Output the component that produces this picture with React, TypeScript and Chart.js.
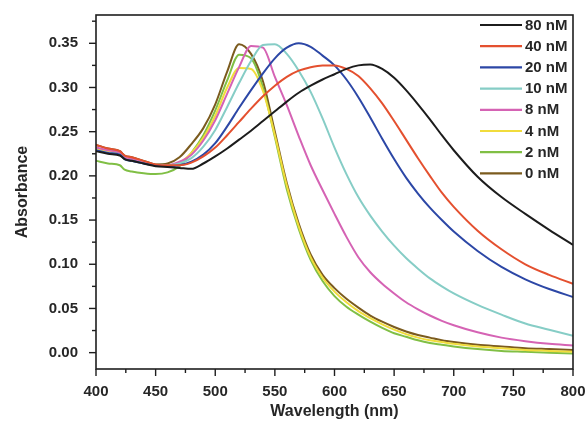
import React, { useEffect, useRef } from "react";
import { Chart, registerables } from "chart.js";

Chart.register(...registerables);

const wavelengths = [400, 410, 420, 424, 430, 440, 450, 460, 470, 480, 490, 500, 510, 520, 530, 540, 550, 560, 570, 580, 590, 600, 610, 620, 630, 640, 650, 660, 670, 680, 690, 700, 720, 740, 760, 780, 800];

const seriesLabels = ["80 nM", "40 nM", "20 nM", "10 nM", "8 nM", "4 nM", "2 nM", "0 nM"];
const seriesColors = ["#1c1c1c", "#e4502f", "#2c47a6", "#86cdc6", "#d563b4", "#f1dc3c", "#80bf45", "#7b5b1e"];

const abs80 = [0.228, 0.225, 0.223, 0.219, 0.217, 0.214, 0.211, 0.210, 0.209, 0.208, 0.214, 0.222, 0.231, 0.241, 0.251, 0.262, 0.273, 0.284, 0.294, 0.302, 0.309, 0.315, 0.321, 0.325, 0.326, 0.321, 0.311, 0.297, 0.281, 0.264, 0.246, 0.229, 0.199, 0.176, 0.157, 0.139, 0.122];
const abs40 = [0.235, 0.231, 0.228, 0.223, 0.221, 0.217, 0.213, 0.212, 0.212, 0.215, 0.222, 0.232, 0.246, 0.261, 0.276, 0.290, 0.302, 0.312, 0.319, 0.323, 0.325, 0.325, 0.321, 0.313, 0.299, 0.282, 0.262, 0.241, 0.220, 0.200, 0.181, 0.165, 0.138, 0.117, 0.100, 0.088, 0.078];
const abs20 = [0.229, 0.226, 0.224, 0.219, 0.217, 0.214, 0.212, 0.211, 0.212, 0.216, 0.224, 0.237, 0.256, 0.277, 0.297, 0.316, 0.333, 0.345, 0.350, 0.346, 0.336, 0.325, 0.309, 0.289, 0.266, 0.242, 0.219, 0.198, 0.180, 0.164, 0.150, 0.137, 0.115, 0.097, 0.083, 0.072, 0.063];
const abs10 = [0.229, 0.226, 0.224, 0.219, 0.217, 0.214, 0.212, 0.212, 0.214, 0.220, 0.233, 0.252, 0.278, 0.305, 0.330, 0.348, 0.349, 0.338, 0.319, 0.295, 0.265, 0.232, 0.202, 0.176, 0.155, 0.137, 0.121, 0.107, 0.095, 0.084, 0.075, 0.067, 0.054, 0.043, 0.033, 0.026, 0.019];
const abs8 = [0.232, 0.229, 0.226, 0.221, 0.219, 0.215, 0.212, 0.212, 0.216, 0.224, 0.240, 0.263, 0.293, 0.323, 0.347, 0.345, 0.312, 0.280, 0.245, 0.212, 0.184, 0.157, 0.131, 0.108, 0.091, 0.078, 0.067, 0.057, 0.049, 0.042, 0.036, 0.031, 0.023, 0.017, 0.013, 0.010, 0.008];
const abs4 = [0.231, 0.228, 0.226, 0.221, 0.219, 0.215, 0.212, 0.212, 0.215, 0.226, 0.243, 0.268, 0.300, 0.322, 0.321, 0.296, 0.246, 0.189, 0.143, 0.108, 0.085, 0.069, 0.057, 0.047, 0.039, 0.032, 0.026, 0.021, 0.017, 0.014, 0.012, 0.010, 0.007, 0.005, 0.003, 0.002, 0.001];
const abs2 = [0.217, 0.214, 0.212, 0.207, 0.205, 0.203, 0.202, 0.204, 0.211, 0.226, 0.246, 0.274, 0.308, 0.337, 0.333, 0.300, 0.244, 0.185, 0.140, 0.105, 0.081, 0.064, 0.052, 0.043, 0.035, 0.028, 0.022, 0.018, 0.014, 0.011, 0.009, 0.007, 0.004, 0.002, 0.001, 0.000, -0.001];
const abs0 = [0.235, 0.231, 0.228, 0.223, 0.221, 0.217, 0.213, 0.214, 0.221, 0.236, 0.254, 0.281, 0.318, 0.349, 0.338, 0.307, 0.250, 0.192, 0.146, 0.111, 0.088, 0.073, 0.061, 0.051, 0.042, 0.035, 0.029, 0.024, 0.020, 0.017, 0.014, 0.012, 0.009, 0.007, 0.005, 0.004, 0.003];

const seriesValues = [abs80, abs40, abs20, abs10, abs8, abs4, abs2, abs0];

const xMajorTicks = [400, 450, 500, 550, 600, 650, 700, 750, 800];
const xMinorTicks = [425, 475, 525, 575, 625, 675, 725, 775];
const yMajorTicks = [0, 0.05, 0.1, 0.15, 0.2, 0.25, 0.3, 0.35];
const yMinorTicks = [0.025, 0.075, 0.125, 0.175, 0.225, 0.275, 0.325, 0.375];

const FONT = "'Liberation Sans', Arial, sans-serif";
const TEXT = "#262626";

const framePlugin = {
  id: "frameTicksLegend",
  afterDraw(chart: any) {
    const { ctx, chartArea: a, scales } = chart;
    ctx.save();
    ctx.strokeStyle = "#1e1e1e";
    ctx.lineWidth = 1.6;
    ctx.strokeRect(a.left, a.top, a.right - a.left, a.bottom - a.top);
    ctx.lineWidth = 1.4;
    const line = (x1: number, y1: number, x2: number, y2: number) => {
      ctx.beginPath();
      ctx.moveTo(x1, y1);
      ctx.lineTo(x2, y2);
      ctx.stroke();
    };
    xMajorTicks.forEach((v) => { const p = scales.x.getPixelForValue(v); line(p, a.bottom, p, a.bottom + 7); });
    xMinorTicks.forEach((v) => { const p = scales.x.getPixelForValue(v); line(p, a.bottom, p, a.bottom + 4); });
    yMajorTicks.forEach((v) => { const p = scales.y.getPixelForValue(v); line(a.left - 7, p, a.left, p); });
    yMinorTicks.forEach((v) => { const p = scales.y.getPixelForValue(v); line(a.left - 4, p, a.left, p); });

    // legend
    ctx.font = `bold 15px ${FONT}`;
    ctx.textBaseline = "middle";
    ctx.textAlign = "left";
    chart.data.datasets.forEach((ds: any, i: number) => {
      const y = a.top + 10 + i * 21.2;
      ctx.strokeStyle = ds.borderColor;
      ctx.lineWidth = 2.2;
      line(a.right - 93, y, a.right - 51, y);
      ctx.fillStyle = TEXT;
      ctx.fillText(ds.label, a.right - 48, y + 0.5);
    });
    ctx.restore();
  },
};

export default function App() {
  const ref = useRef<HTMLCanvasElement | null>(null);
  useEffect(() => {
    document.body.style.margin = "0";
    document.body.style.background = "#ffffff";
    const canvas = ref.current;
    if (!canvas) return;
    const datasets = seriesLabels.map((label, i) => ({
      label,
      data: wavelengths.map((x, j) => ({ x, y: seriesValues[i][j] })),
      borderColor: seriesColors[i],
      backgroundColor: seriesColors[i],
      borderWidth: 2,
      pointRadius: 0,
      fill: false,
      cubicInterpolationMode: "monotone" as const,
    }));
    const chart = new Chart(canvas, {
      type: "line",
      data: { datasets },
      options: {
        animation: false,
        responsive: false,
        devicePixelRatio: 1,
        layout: { padding: { top: 15, right: 14, left: 0, bottom: 0 } },
        plugins: { legend: { display: false }, tooltip: { enabled: false } },
        scales: {
          x: {
            type: "linear",
            min: 400,
            max: 800,
            afterBuildTicks: (s: any) => { s.ticks = xMajorTicks.map((v) => ({ value: v })); },
            afterFit: (s: any) => { s.height = 58; s.paddingLeft = 0; s.paddingRight = 0; },
            grid: { display: false },
            border: { display: false },
            ticks: {
              color: TEXT,
              font: { family: FONT, size: 15, weight: "bold" },
              padding: 6,
              maxRotation: 0,
              autoSkip: false,
              callback: (v: any) => String(v),
            },
            title: {
              display: true,
              text: "Wavelength (nm)",
              color: TEXT,
              font: { family: FONT, size: 16, weight: "bold" },
              padding: { top: 0, bottom: 6 },
            },
          },
          y: {
            type: "linear",
            min: -0.0185,
            max: 0.382,
            afterBuildTicks: (s: any) => { s.ticks = yMajorTicks.map((v) => ({ value: v })); },
            afterFit: (s: any) => { s.width = 96; s.paddingTop = 0; s.paddingBottom = 0; },
            grid: { display: false },
            border: { display: false },
            ticks: {
              color: TEXT,
              font: { family: FONT, size: 15, weight: "bold" },
              padding: 10,
              autoSkip: false,
              callback: (v: any) => Number(v).toFixed(2),
            },
            title: {
              display: true,
              text: "Absorbance",
              color: TEXT,
              font: { family: FONT, size: 16, weight: "bold" },
              padding: { top: 13, bottom: 0 },
            },
          },
        },
      },
      plugins: [framePlugin],
    });
    return () => chart.destroy();
  }, []);
  return (
    <div style={{ width: 587, height: 427 }}>
      <canvas ref={ref} width={587} height={427} />
    </div>
  );
}
